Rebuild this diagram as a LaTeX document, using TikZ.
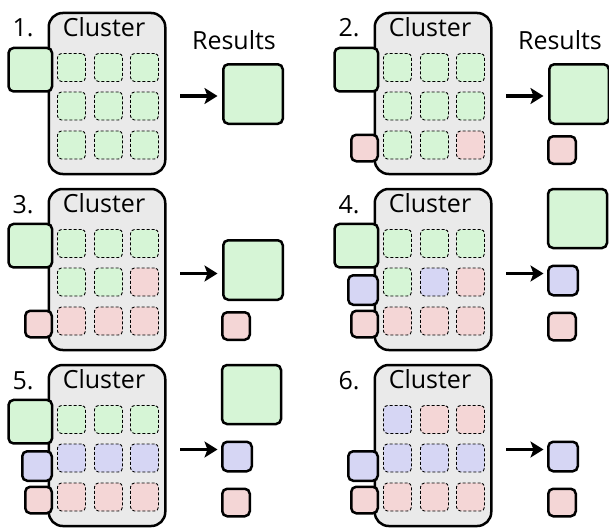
\documentclass[tikz,border=0pt]{standalone}
\usepackage{fontspec}
\setmainfont{Open Sans}
\definecolor{jobgreen}{RGB}{214, 245, 214}
\definecolor{jobred}{RGB}{244, 214, 214}
\definecolor{jobblue}{RGB}{214, 214, 244}
\definecolor{clustergray}{RGB}{234, 234, 234}
\usetikzlibrary{arrows.meta, positioning}

\tikzset{
  cluster/.style={draw, line width=2.5pt, fill=clustergray, rounded corners=14pt, minimum width=116.5pt, minimum height=161pt, inner sep=0pt},
  cell/.style={draw, line width=0.9pt, dash pattern=on 3pt off 2pt, rounded corners=4pt, fill=#1, minimum size=28pt, inner sep=0pt},
  job/.style={draw, line width=2.5pt, rounded corners=5pt, fill=#1, inner sep=0pt},
  lbl/.style={font=\fontsize{25}{28}\selectfont, anchor=base, inner sep=0pt},
  flow/.style={-{Stealth[length=13pt, width=16pt, inset=3pt]}, line width=3.5pt}
}

\begin{document}
\begin{tikzpicture}[x=1pt, y=-1pt]
  \useasboundingbox (0,0) rectangle (609,527);

  % 1.
  \begin{scope}
    \node[cluster] (cl1) at (107, 93.5) {};
    \node[lbl] (num1) at (23, 37) {1.};
    \node[lbl] (name1) at (104, 36.7) {Cluster};
    \node[lbl] (out1) at (234, 49.3) {Results};
    \foreach \y/\ca/\cb/\cc [count=\r] in {67.5/jobgreen/jobgreen/jobgreen, 106/jobgreen/jobgreen/jobgreen, 145/jobgreen/jobgreen/jobgreen} {
      \node[cell=\ca] (c1-\r-1) at (71.5, \y) {};
      \node[cell=\cb] (c1-\r-2) at (108.5, \y) {};
      \node[cell=\cc] (c1-\r-3) at (144.5, \y) {};
    }
    \node[job=jobgreen, minimum size=43.5pt] (in1g) at (30.3, 69.7) {};
    \node[job=jobgreen, minimum size=59.5pt] (res1g) at (253, 94) {};
    \coordinate (from1) at (180, 96);
    \coordinate (to1) at (217.5, 96);
    \draw[flow] (from1) -- (to1);
  \end{scope}

  % 2.
  \begin{scope}[shift={(326,0)}]
    \node[cluster] (cl2) at (107, 93.5) {};
    \node[lbl] (num2) at (23, 37) {2.};
    \node[lbl] (name2) at (104, 36.7) {Cluster};
    \node[lbl] (out2) at (234, 49.3) {Results};
    \foreach \y/\ca/\cb/\cc [count=\r] in {67.5/jobgreen/jobgreen/jobgreen, 106/jobgreen/jobgreen/jobgreen, 145/jobgreen/jobgreen/jobred} {
      \node[cell=\ca] (c2-\r-1) at (71.5, \y) {};
      \node[cell=\cb] (c2-\r-2) at (108.5, \y) {};
      \node[cell=\cc] (c2-\r-3) at (144.5, \y) {};
    }
    \node[job=jobgreen, minimum size=43.5pt] (in2g) at (30.3, 69.7) {};
    \node[job=jobred, minimum size=26.5pt] (in2r) at (38.5, 148) {};
    \node[job=jobgreen, minimum size=59.5pt] (res2g) at (253, 94) {};
    \node[job=jobred, minimum size=27.5pt] (res2r) at (236, 150) {};
    \coordinate (from2) at (180, 96);
    \coordinate (to2) at (217.5, 96);
    \draw[flow] (from2) -- (to2);
  \end{scope}

  % 3.
  \begin{scope}[shift={(0,176)}]
    \node[cluster] (cl3) at (107, 93.5) {};
    \node[lbl] (num3) at (23, 37) {3.};
    \node[lbl] (name3) at (104, 36.7) {Cluster};
    \foreach \y/\ca/\cb/\cc [count=\r] in {67.5/jobgreen/jobgreen/jobgreen, 106/jobgreen/jobgreen/jobred, 145/jobred/jobred/jobred} {
      \node[cell=\ca] (c3-\r-1) at (71.5, \y) {};
      \node[cell=\cb] (c3-\r-2) at (108.5, \y) {};
      \node[cell=\cc] (c3-\r-3) at (144.5, \y) {};
    }
    \node[job=jobgreen, minimum size=43.5pt] (in3g) at (30.3, 69.7) {};
    \node[job=jobred, minimum size=26.5pt] (in3r) at (38.5, 148) {};
    \node[job=jobgreen, minimum size=59.5pt] (res3g) at (253, 94) {};
    \node[job=jobred, minimum size=27.5pt] (res3r) at (236, 150) {};
    \coordinate (from3) at (180, 97.5);
    \coordinate (to3) at (217.5, 97.5);
    \draw[flow] (from3) -- (to3);
  \end{scope}

  % 4.
  \begin{scope}[shift={(326,176)}]
    \node[cluster] (cl4) at (107, 93.5) {};
    \node[lbl] (num4) at (23, 37) {4.};
    \node[lbl] (name4) at (104, 36.7) {Cluster};
    \foreach \y/\ca/\cb/\cc [count=\r] in {67.5/jobgreen/jobgreen/jobgreen, 106/jobgreen/jobblue/jobred, 145/jobred/jobred/jobred} {
      \node[cell=\ca] (c4-\r-1) at (71.5, \y) {};
      \node[cell=\cb] (c4-\r-2) at (108.5, \y) {};
      \node[cell=\cc] (c4-\r-3) at (144.5, \y) {};
    }
    \node[job=jobgreen, minimum size=43.5pt] (in4g) at (30.3, 69.7) {};
    \node[job=jobblue, minimum size=29.5pt] (in4b) at (37, 114) {};
    \node[job=jobred, minimum size=26.5pt] (in4r) at (38.5, 148) {};
    \node[job=jobgreen, minimum size=59pt] (res4g) at (251.5, 42.5) {};
    \node[job=jobblue, minimum size=29.5pt] (res4b) at (237, 104.5) {};
    \node[job=jobred, minimum size=27.5pt] (res4r) at (236, 150.5) {};
    \coordinate (from4) at (180, 97.5);
    \coordinate (to4) at (217.5, 97.5);
    \draw[flow] (from4) -- (to4);
  \end{scope}

  % 5.
  \begin{scope}[shift={(0,352)}]
    \node[cluster] (cl5) at (107, 93.5) {};
    \node[lbl] (num5) at (23, 37) {5.};
    \node[lbl] (name5) at (104, 36.7) {Cluster};
    \foreach \y/\ca/\cb/\cc [count=\r] in {67.5/jobgreen/jobgreen/jobgreen, 106/jobblue/jobblue/jobblue, 145/jobred/jobred/jobred} {
      \node[cell=\ca] (c5-\r-1) at (71.5, \y) {};
      \node[cell=\cb] (c5-\r-2) at (108.5, \y) {};
      \node[cell=\cc] (c5-\r-3) at (144.5, \y) {};
    }
    \node[job=jobgreen, minimum size=43.5pt] (in5g) at (30.3, 69.7) {};
    \node[job=jobblue, minimum size=29.5pt] (in5b) at (37, 114) {};
    \node[job=jobred, minimum size=26.5pt] (in5r) at (38.5, 148) {};
    \node[job=jobgreen, minimum size=59pt] (res5g) at (251.5, 42.5) {};
    \node[job=jobblue, minimum size=29.5pt] (res5b) at (237, 104.5) {};
    \node[job=jobred, minimum size=27.5pt] (res5r) at (236, 150.5) {};
    \coordinate (from5) at (180, 97.5);
    \coordinate (to5) at (217.5, 97.5);
    \draw[flow] (from5) -- (to5);
  \end{scope}

  % 6.
  \begin{scope}[shift={(326,352)}]
    \node[cluster] (cl6) at (107, 93.5) {};
    \node[lbl] (num6) at (23, 37) {6.};
    \node[lbl] (name6) at (104, 36.7) {Cluster};
    \foreach \y/\ca/\cb/\cc [count=\r] in {67.5/jobblue/jobred/jobred, 106/jobblue/jobblue/jobblue, 145/jobred/jobred/jobred} {
      \node[cell=\ca] (c6-\r-1) at (71.5, \y) {};
      \node[cell=\cb] (c6-\r-2) at (108.5, \y) {};
      \node[cell=\cc] (c6-\r-3) at (144.5, \y) {};
    }
    \node[job=jobblue, minimum size=29.5pt] (in6b) at (37, 114) {};
    \node[job=jobred, minimum size=26.5pt] (in6r) at (38.5, 148) {};
    \node[job=jobblue, minimum size=29.5pt] (res6b) at (237, 104.5) {};
    \node[job=jobred, minimum size=27.5pt] (res6r) at (236, 150.5) {};
    \coordinate (from6) at (180, 97.5);
    \coordinate (to6) at (217.5, 97.5);
    \draw[flow] (from6) -- (to6);
  \end{scope}
\end{tikzpicture}
\end{document}
